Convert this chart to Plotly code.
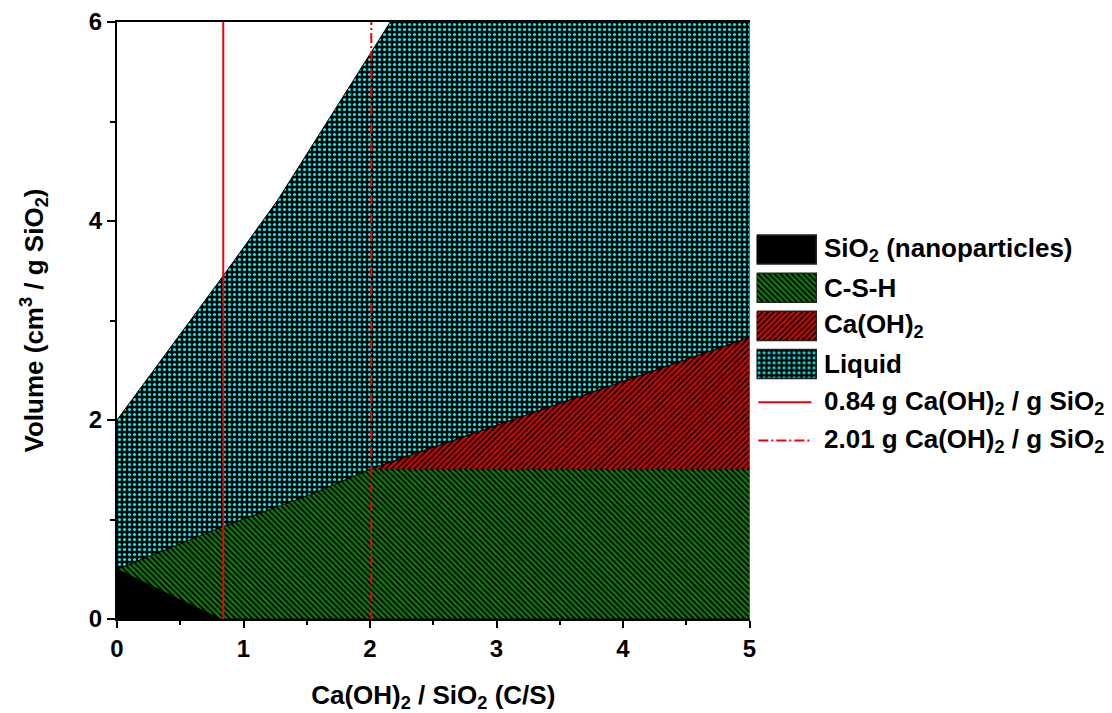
import plotly.graph_objects as go

# Phase boundaries (x = Ca(OH)2 / SiO2 mass ratio, y = cm3 per g SiO2)
sio2_x = [0.0, 0.82]
sio2_top = [0.50, 0.0]

csh_x = [0.0, 0.84, 1.53, 2.01, 5.0]
csh_top = [0.50, 0.93, 1.25, 1.51, 1.51]

ch_x = [2.01, 5.0]
ch_top = [1.51, 2.83]

liq_x = [0.0, 0.84, 1.27, 2.01, 2.16, 5.0]
liq_top = [2.00, 3.45, 4.21, 5.70, 6.00, 6.00]

ref_lines = [0.84, 2.01]

phase_names = ["SiO<sub>2</sub> (nanoparticles)", "C-S-H",
               "Ca(OH)<sub>2</sub>", "Liquid"]
ref_names = ["0.84 g Ca(OH)<sub>2</sub> / g SiO<sub>2</sub>",
             "2.01 g Ca(OH)<sub>2</sub> / g SiO<sub>2</sub>"]

x_ticks = [0, 1, 2, 3, 4, 5]
y_ticks = [0, 2, 4, 6]

FONT = "Liberation Sans"
GREEN = "#0a8a0a"
RED = "#f00000"
CYAN = "#00f0f0"
edge = dict(color="black", width=1)

phase_styles = [
    dict(fillcolor="black"),
    dict(fillpattern=dict(shape="\\", bgcolor="black", fgcolor=GREEN,
                          fgopacity=1, size=4, solidity=0.5)),
    dict(fillpattern=dict(shape="/", bgcolor="black", fgcolor=RED,
                          fgopacity=1, size=4, solidity=0.5)),
    dict(fillpattern=dict(shape=".", bgcolor="black", fgcolor=CYAN,
                          fgopacity=1, size=5, solidity=0.3)),
]
ref_dashes = ["solid", "10px,3px,2px,3px"]

# solids-on-top boundary: C-S-H up to 2.01, then Ca(OH)2
solid_x = csh_x[:3] + ch_x
solid_top = csh_top[:3] + ch_top

polys = [
    ([sio2_x[0]] + sio2_x + [sio2_x[0]], [0] + sio2_top + [0]),
    (csh_x + [csh_x[-1]] + sio2_x[::-1], csh_top + [0] + sio2_top[::-1]),
    (ch_x + [ch_x[-1]], ch_top + [csh_top[-1]]),
    (liq_x + solid_x[::-1], liq_top + solid_top[::-1]),
]

fig = go.Figure()

for (px, py), nm, st in zip(polys, phase_names, phase_styles):
    fig.add_trace(go.Scatter(x=px, y=py, fill="toself", mode="lines",
                             line=edge, name=nm, showlegend=False, **st))

for xv, nm, dash in zip(ref_lines, ref_names, ref_dashes):
    fig.add_trace(go.Scatter(x=[xv, xv], y=[0, 6], mode="lines",
                             line=dict(color=RED, width=2, dash=dash),
                             name=nm, showlegend=False))

# Key drawn on its own hidden axes so the swatches carry the same patterns.
# One x2 unit = one swatch width.
n_rows = len(phase_names) + len(ref_names)
half = 0.38
key_span = 350 / 60
for i, (nm, st) in enumerate(zip(phase_names, phase_styles)):
    fig.add_trace(go.Scatter(
        x=[0, 1, 1, 0, 0], y=[i - half, i - half, i + half, i + half, i - half],
        xaxis="x2", yaxis="y2", fill="toself", mode="lines",
        line=dict(color="#222222", width=1.5), showlegend=False,
        hoverinfo="skip", **st))
for j, dash in enumerate(ref_dashes):
    i = len(phase_names) + j
    fig.add_trace(go.Scatter(
        x=[0.03, 0.92], y=[i, i], xaxis="x2", yaxis="y2", mode="lines",
        line=dict(color=RED, width=2, dash=dash), showlegend=False,
        hoverinfo="skip"))

for i, nm in enumerate(phase_names + ref_names):
    fig.add_annotation(x=1.1, y=i, xref="x2", yref="y2", text=nm,
                       xanchor="left", yanchor="middle", showarrow=False,
                       font=dict(family=FONT, size=26, color="black",
                                 weight="bold"))

axis_common = dict(
    showline=True, linecolor="black", linewidth=2,
    ticks="outside", tickwidth=2, tickcolor="black",
    showgrid=False, zeroline=False,
    tickfont=dict(family=FONT, size=24, color="black", weight="bold"),
    title_font=dict(family=FONT, size=26, color="black", weight="bold"),
)

fig.update_layout(
    xaxis=dict(range=[0, 5], domain=[0, 0.6402], tickvals=x_ticks,
               mirror=True, ticklen=7,
               minor=dict(ticks="outside", ticklen=4, tickwidth=2,
                          tickcolor="black", dtick=0.5, showgrid=False),
               title_text="Ca(OH)<sub>2</sub> / SiO<sub>2</sub> (C/S)",
               title_standoff=25, **axis_common),
    yaxis=dict(range=[0, 6], tickvals=y_ticks, ticklen=8,
               minor=dict(ticks="outside", ticklen=5, tickwidth=2,
                          tickcolor="black", dtick=1, showgrid=False),
               title_text="Volume (cm<sup>3</sup> / g SiO<sub>2</sub>)",
               title_standoff=38, **axis_common),
    xaxis2=dict(domain=[0.6473, 1.0], range=[0, key_span], anchor="y2",
                visible=False, fixedrange=True),
    yaxis2=dict(domain=[0.267, 0.651], range=[n_rows - 0.5, -0.5],
                anchor="x2", visible=False, fixedrange=True),
    width=1112, height=713,
    margin=dict(l=117, r=0, t=22, b=94),
    plot_bgcolor="white", paper_bgcolor="white",
    showlegend=False,
)

fig.write_html("out.html")
